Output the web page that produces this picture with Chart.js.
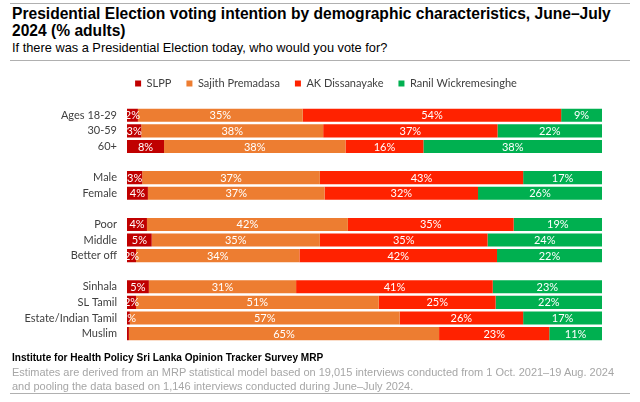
<!DOCTYPE html>
<html>
<head>
<meta charset="utf-8">
<script src="https://cdn.jsdelivr.net/npm/chart.js@4"></script>
<style>
  body { margin: 0; background: #fff; }
  #wrap { position: relative; width: 640px; height: 402px; overflow: hidden; font-family: "Liberation Sans", Arial, sans-serif; }
  .rule { position: absolute; left: 10px; width: 620px; height: 1px; background: #b0b0b0; }
  #title { position: absolute; left: 12px; top: 5px; width: 620px; font-weight: bold; font-size: 15.6px; line-height: 17px; color: #000; }
  #subtitle { position: absolute; left: 12px; top: 40px; font-size: 12.8px; color: #000; }
  #source { position: absolute; left: 12px; top: 352px; font-weight: bold; font-size: 10.1px; color: #000; }
  #note { position: absolute; left: 12px; top: 365px; width: 618px; font-size: 11px; line-height: 14px; color: #a6a6a6; }
  #chartBox { position: absolute; left: 0; top: 62px; width: 640px; height: 296px; }
</style>
</head>
<body>
<div id="wrap">
  <div class="rule" style="top:3px"></div>
  <div id="title">Presidential Election voting intention by demographic characteristics, June–July 2024 (% adults)</div>
  <div id="subtitle">If there was a Presidential Election today, who would you vote for?</div>
  <div class="rule" style="top:60px"></div>
  <div id="chartBox"><canvas id="chart"></canvas></div>
  <div id="source">Institute for Health Policy Sri Lanka Opinion Tracker Survey MRP</div>
  <div id="note">Estimates are derived from an MRP statistical model based on 19,015 interviews conducted from 1 Oct. 2021–19 Aug. 2024 and pooling the data based on 1,146 interviews conducted during June–July 2024.</div>
  <div class="rule" style="top:393px"></div>
</div>
<script>
// empty strings are the spacer rows between groups
const groups = ["Ages 18-29", "30-59", "60+", "", "Male", "Female", "", "Poor", "Middle", "Better off", "", "Sinhala", "SL Tamil", "Estate/Indian Tamil", "Muslim"];

const slpp    = [2.3, 3.0, 7.8, null, 3.2, 4.4, null, 4.2, 5.2, 1.9, null, 4.6, 1.9, 0.6, 0.4];
const sajith  = [34.7, 38.3, 38.2, null, 37.4, 37.2, null, 42.3, 35.4, 34.4, null, 31.0, 51.1, 56.8, 65.3];
const akd     = [54.4, 36.7, 16.4, null, 42.8, 32.3, null, 34.9, 35.3, 41.6, null, 41.4, 24.6, 26.0, 23.2];
const ranil   = [8.6, 22.0, 37.6, null, 16.6, 26.1, null, 18.6, 24.1, 22.1, null, 23.0, 22.4, 16.6, 11.1];

const seriesNames = ["SLPP", "Sajith Premadasa", "AK Dissanayake", "Ranil Wickremesinghe"];
const seriesColors = ["#C00000", "#ED7D31", "#FF2200", "#00B050"];

const labelFont = "Lato, 'Open Sans', sans-serif";

const segmentLabels = {
    id: "segmentLabels",
    afterDatasetsDraw(chart) {
        const ctx = chart.ctx;
        ctx.save();
        ctx.font = "11px " + labelFont;
        ctx.fillStyle = "#ffffff";
        ctx.textAlign = "center";
        ctx.textBaseline = "middle";
        chart.data.datasets.forEach((ds, i) => {
            const meta = chart.getDatasetMeta(i);
            meta.data.forEach((bar, j) => {
                const v = ds.data[j];
                if (v == null || Math.round(v) < 1) return;
                ctx.fillText(Math.round(v) + "%", (bar.x + bar.base) / 2, bar.y + 0.5);
            });
        });
        ctx.restore();
    }
};

// the legend sits a little right of the centre and closer to the header
const legendShift = {
    id: "legendShift",
    afterLayout(chart) {
        chart.legend.left += 25;
        chart.legend.right += 25;
        chart.legend.top -= 8.5;
        chart.legend.bottom -= 8.5;
    }
};

new Chart(document.getElementById("chart"), {
    type: "bar",
    data: {
        labels: groups,
        datasets: [slpp, sajith, akd, ranil].map((values, i) => ({
            label: seriesNames[i],
            data: values,
            backgroundColor: seriesColors[i],
            borderWidth: 0,
            barPercentage: 0.84,
            categoryPercentage: 1
        }))
    },
    options: {
        indexAxis: "y",
        responsive: true,
        maintainAspectRatio: false,
        animation: false,
        layout: { padding: { left: 0, right: 38, top: 9.5, bottom: 5 } },
        plugins: {
            legend: {
                position: "top",
                labels: {
                    boxWidth: 6,
                    boxHeight: 6,
                    padding: 15,
                    color: "#404040",
                    font: { family: labelFont, size: 11 }
                }
            },
            tooltip: { enabled: false }
        },
        scales: {
            x: {
                stacked: true,
                min: 0,
                max: 100,
                display: false
            },
            y: {
                stacked: true,
                grid: { display: false, drawTicks: false },
                border: { display: false },
                ticks: {
                    autoSkip: false,
                    color: "#404040",
                    padding: 10,
                    font: { family: labelFont, size: 11 }
                },
                afterFit(scale) { scale.width = 127; }
            }
        }
    },
    plugins: [segmentLabels, legendShift]
});
</script>
</body>
</html>
